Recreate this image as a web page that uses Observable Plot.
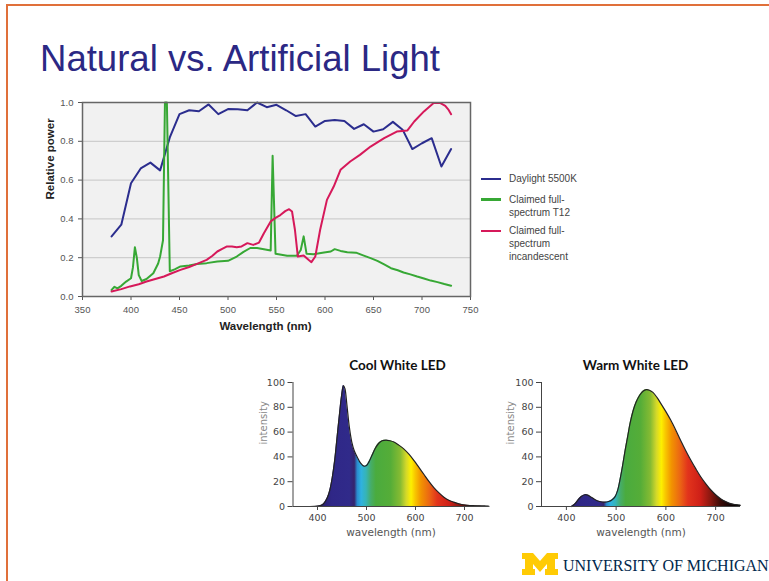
<!DOCTYPE html>
<html>
<head>
<meta charset="utf-8">
<script src="https://cdn.jsdelivr.net/npm/d3@7"></script>
<script src="https://cdn.jsdelivr.net/npm/@observablehq/plot@0.6"></script>
<style>
  html, body { margin: 0; padding: 0; background: #fff; }
  #page { position: relative; width: 769px; height: 581px; overflow: hidden; background: #fff; }
  .abs { position: absolute; }
  .legend { font-family: "Liberation Sans", Arial, sans-serif; font-size: 10px; color: #444; line-height: 13px; white-space: nowrap; }
  .sw { position: absolute; height: 2.5px; width: 20px; }
</style>
</head>
<body>
<div id="page">
  <div class="abs" style="left:6px;top:4px;width:763px;height:2px;background:#e0703a"></div>
  <div class="abs" style="left:6px;top:4px;width:2px;height:577px;background:#e0703a"></div>
  <div class="abs" id="title" style="left:40px;top:41px;font-family:'Liberation Sans',Arial,sans-serif;font-size:36px;line-height:36px;color:#2b2884;white-space:nowrap;">Natural vs. Artificial Light</div>
  <div class="abs" id="main" style="left:0px;top:90px;"></div>
  <div class="abs" id="legend" style="left:0;top:0;"></div>
  <div class="abs" id="cool" style="left:250px;top:350px;"></div>
  <div class="abs" id="warm" style="left:500px;top:350px;"></div>
  <svg class="abs" style="left:522px;top:553px" width="36" height="22" viewBox="0 0 36 22">
    <polygon fill="#ffcb05" points="0,0 11,0 18,8 25,0 36,0 36,6 33,6 33,16 36,16 36,22 23,22 23,16 25,16 25,11 18,19 11,11 11,16 13,16 13,22 0,22 0,16 3,16 3,6 0,6"/>
  </svg>
  <div class="abs" style="left:563px;top:557.5px;font-family:'Liberation Serif','Times New Roman',serif;font-size:16px;line-height:16px;color:#00274c;white-space:nowrap;">UNIVERSITY OF MICHIGAN</div>
</div>
<script>
// ---------- Data ----------
const seriesNames = ["Daylight 5500K", "Claimed full-spectrum T12", "Claimed full-spectrum incandescent"];
const mainXTicks = [350, 400, 450, 500, 550, 600, 650, 700, 750];
const mainYTicks = [0, 0.2, 0.4, 0.6, 0.8, 1.0];

const daylight = [
  [380,0.31],[390,0.37],[400,0.584],[410,0.66],[420,0.69],[430,0.65],[440,0.82],[450,0.94],
  [460,0.96],[470,0.955],[480,0.99],[490,0.94],[500,0.966],[510,0.965],[520,0.96],[530,1.0],
  [540,0.976],[550,0.988],[560,0.96],[570,0.93],[580,0.94],[590,0.876],[600,0.905],[610,0.91],
  [620,0.905],[630,0.864],[640,0.888],[650,0.85],[660,0.862],[670,0.9],[680,0.86],[690,0.76],
  [700,0.79],[710,0.816],[720,0.67],[730,0.76]
];
const t12 = [
  [380,0.034],[383,0.05],[386,0.042],[390,0.055],[395,0.077],[400,0.094],[402,0.15],[404,0.254],
  [406,0.2],[408,0.11],[411,0.08],[416,0.09],[423,0.12],[428,0.17],[430,0.206],[433,0.29],
  [435,1.0],[437,1.0],[440,0.13],[445,0.14],[451,0.155],[460,0.16],[468,0.168],[478,0.172],
  [489,0.18],[500,0.184],[509,0.206],[516,0.23],[523,0.25],[530,0.25],[537,0.244],[544,0.237],
  [546,0.725],[549,0.22],[555,0.215],[561,0.21],[571,0.21],[575,0.24],[578,0.31],[581,0.22],
  [588,0.218],[599,0.227],[606,0.232],[610,0.244],[616,0.235],[623,0.228],[632,0.226],[640,0.211],
  [647,0.198],[654,0.184],[661,0.165],[668,0.146],[675,0.135],[681,0.124],[688,0.114],[695,0.103],
  [702,0.093],[709,0.082],[716,0.074],[723,0.064],[730,0.055]
];
const incandescent = [
  [380,0.026],[390,0.038],[399,0.052],[408,0.063],[416,0.077],[425,0.09],[434,0.103],[442,0.12],
  [451,0.137],[460,0.152],[468,0.168],[478,0.189],[484,0.21],[489,0.232],[494,0.245],[499,0.258],
  [504,0.258],[509,0.254],[514,0.258],[520,0.275],[526,0.266],[532,0.278],[537,0.326],[544,0.387],
  [549,0.405],[554,0.42],[559,0.44],[563,0.45],[566,0.438],[569,0.344],[572,0.206],[578,0.211],
  [583,0.189],[586,0.177],[590,0.206],[595,0.344],[602,0.498],[609,0.567],[616,0.653],[626,0.696],
  [636,0.73],[647,0.773],[661,0.816],[674,0.85],[685,0.856],[692,0.902],[702,0.954],[712,0.997],
  [719,0.997],[724,0.983],[727,0.965],[730,0.94]
];

const ledXTicks = [400, 500, 600, 700];
const ledYTicks = [0, 20, 40, 60, 80, 100];
const coolLED = [
  [380,0],[400,0.3],[410,1.5],[415,3.5],[420,7],[425,13],[430,23],[435,37],[440,56],[445,75],
  [449,89],[453,97.5],[456,95],[460,82],[465,64],[470,52],[475,45],[481,40],[488,35],[495,32.5],
  [500,33],[505,36],[512,42],[518,47],[525,51],[532,53],[540,53.5],[548,53],[556,52],[566,49.5],
  [576,46.5],[587,42],[597,37],[607,31.5],[617,26],[627,20.5],[637,15.5],[648,11],[658,7.5],
  [668,5],[678,3.5],[690,2],[705,1],[720,0.6],[735,0.4],[750,0.2]
];
const warmLED = [
  [410,0],[413,0.8],[418,2.5],[422,4.5],[430,8],[437,9.5],[443,9.2],[450,7.5],[458,5.5],[467,4],
  [477,3.5],[485,4],[492,5.5],[498,8],[503,13],[508,22],[513,33],[518,45],[523,56],[528,67],
  [534,77],[540,84],[547,89.5],[554,93],[561,94.3],[567,93.8],[574,92],[582,88],[590,83],[600,76.5],
  [610,69.5],[620,61.5],[630,53],[640,45],[650,37.5],[660,30.5],[670,24],[680,18.5],[690,13.5],
  [700,9.5],[710,6.3],[720,4],[730,2.3],[740,1.5],[750,1]
];

// ---------- Styles ----------
const colors = ["#2b2d8e", "#37a835", "#d6195a"];
const spectrumStops = [
  [380,"#1b1446"],[410,"#2a2070"],[430,"#2f2787"],[466,"#302a8a"],[476,"#35246c"],[482,"#2a8ccf"],
  [490,"#2fb2e0"],[500,"#36b4b6"],[510,"#46ad68"],[520,"#4aab3e"],[550,"#55ad38"],[570,"#86bb32"],
  [582,"#d4d82a"],[592,"#fdf000"],[600,"#f8c800"],[612,"#f29400"],[630,"#eb6414"],[645,"#e2341c"],
  [670,"#cf2018"],[690,"#8c1810"],[710,"#3c0c08"],[730,"#140404"],[750,"#000000"]
];

// ---------- Main chart ----------
const mainSeries = [daylight, t12, incandescent];
const main = Plot.plot({
  width: 480, height: 250,
  marginLeft: 82, marginRight: 10, marginTop: 12, marginBottom: 44,
  x: { domain: [350, 750] },
  y: { domain: [0, 1] },
  style: { fontFamily: "'Liberation Sans', Arial, sans-serif", fontSize: "9.5px", color: "#555", background: "transparent", overflow: "visible" },
  marks: [
    Plot.frame({ fill: "#f1f1f1", stroke: null }),
    Plot.gridY({ ticks: [0.2, 0.4, 0.6, 0.8], stroke: "#c6c6c6", strokeOpacity: 1 }),
    Plot.axisX({ ticks: mainXTicks, tickSize: 4, tickPadding: 6, label: null }),
    Plot.axisY({ ticks: mainYTicks, tickFormat: d3.format(".1f"), tickSize: 4, tickPadding: 5, label: null }),
    ...mainSeries.map((s, i) => Plot.line(s, { x: d => d[0], y: d => d[1], stroke: colors[i], strokeWidth: 2, strokeLinejoin: "round" })),
    Plot.frame({ stroke: "#666", strokeWidth: 1.5 }),
    Plot.text(["Wavelength (nm)"], { text: d => d, frameAnchor: "bottom", dy: 33, dx: -11, fontWeight: "bold", fontSize: 11.5, fill: "#222" }),
    Plot.text(["Relative power"], { text: d => d, frameAnchor: "left", dx: -32, rotate: -90, fontWeight: "bold", fontSize: 11.5, fill: "#222" })
  ]
});
document.getElementById("main").appendChild(main);

// ---------- Legend ----------
const legendItems = [
  { lines: ["Daylight 5500K"], sw: 177.5, top: 171.5 },
  { lines: ["Claimed full-", "spectrum T12"], sw: 198, top: 192.5 },
  { lines: ["Claimed full-", "spectrum", "incandescent"], sw: 229.5, top: 223.5 }
];
const legend = document.getElementById("legend");
legendItems.forEach((it, i) => {
  const sw = document.createElement("div");
  sw.className = "sw";
  sw.style.left = "481px"; sw.style.top = it.sw + "px"; sw.style.background = colors[i];
  legend.appendChild(sw);
  const t = document.createElement("div");
  t.className = "abs legend";
  t.style.left = "509px"; t.style.top = it.top + "px";
  t.innerHTML = it.lines.join("<br>");
  legend.appendChild(t);
});

// ---------- LED charts ----------
function gradientDef(id) {
  return (index, scales) => {
    const ns = "http://www.w3.org/2000/svg";
    const x = scales.x;
    const x0 = x(350), x1 = x(750);
    const defs = document.createElementNS(ns, "defs");
    const lg = document.createElementNS(ns, "linearGradient");
    lg.setAttribute("id", id);
    lg.setAttribute("gradientUnits", "userSpaceOnUse");
    lg.setAttribute("x1", x0); lg.setAttribute("x2", x1);
    lg.setAttribute("y1", 0); lg.setAttribute("y2", 0);
    spectrumStops.forEach(([nm, c]) => {
      const st = document.createElementNS(ns, "stop");
      st.setAttribute("offset", (x(nm) - x0) / (x1 - x0));
      st.setAttribute("stop-color", c);
      lg.appendChild(st);
    });
    defs.appendChild(lg);
    return defs;
  };
}

function ledChart(data, title, id, opts) {
  return Plot.plot({
    width: 245, height: 190,
    marginLeft: opts.ml, marginRight: opts.mr, marginTop: 32, marginBottom: 34,
    x: { domain: [350, 750] },
    y: { domain: [0, 100] },
    style: { fontFamily: "'DejaVu Sans', sans-serif", fontSize: "9.5px", color: "#444", background: "transparent", overflow: "visible" },
    marks: [
      gradientDef(id),
      Plot.areaY(data, { x: d => d[0], y: d => d[1], fill: `url(#${id})`, curve: "catmull-rom" }),
      Plot.lineY(data, { x: d => d[0], y: d => d[1], stroke: "#222", strokeWidth: 1.2, curve: "catmull-rom" }),
      Plot.ruleX([350], { stroke: "#444" }),
      Plot.ruleY([0], { stroke: "#444" }),
      Plot.axisX({ ticks: ledXTicks, tickSize: 4, tickPadding: 4, label: null }),
      Plot.axisY({ ticks: ledYTicks, tickSize: 5, tickPadding: 3, label: null }),
      Plot.text([title], { text: d => d, frameAnchor: "top", dy: -22, dx: opts.tdx, fontFamily: "Lato, sans-serif", fontWeight: "bold", fontSize: 13.5, fill: "#111" }),
      Plot.text(["wavelength (nm)"], { text: d => d, frameAnchor: "bottom", dy: 29, fontSize: 10.5, fill: "#555" }),
      Plot.text(["intensity"], { text: d => d, frameAnchor: "left", dx: opts.ydx, rotate: -90, fontSize: 10, fill: "#888" })
    ]
  });
}
document.getElementById("cool").appendChild(ledChart(coolLED, "Cool White LED", "gradCool", { ml: 42.5, mr: 6.5, tdx: 6.5, ydx: -29.5 }));
document.getElementById("warm").appendChild(ledChart(warmLED, "Warm White LED", "gradWarm", { ml: 41, mr: 5, tdx: -5.5, ydx: -31 }));

// fit title width
const tEl = document.getElementById("title");
const w = tEl.getBoundingClientRect().width;
tEl.style.transformOrigin = "0 0";
tEl.style.transform = `scaleX(${400 / w})`;
</script>
</body>
</html>
